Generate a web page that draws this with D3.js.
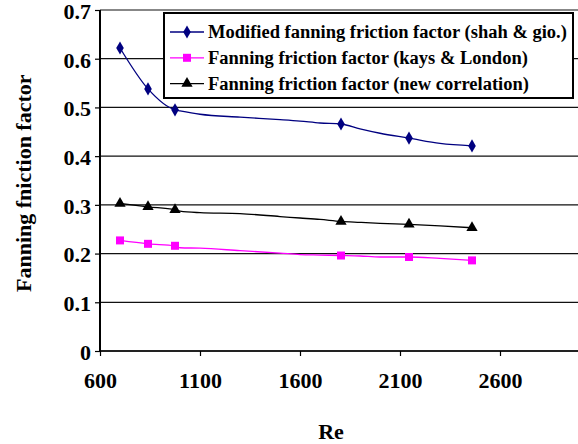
<!DOCTYPE html>
<html>
<head>
<meta charset="utf-8">
<script src="https://cdn.jsdelivr.net/npm/d3@7"></script>
<style>
  body { margin: 0; background: #fff; }
</style>
</head>
<body>
<svg id="chart" width="578" height="444"></svg>
<script>
const FONT = "'Liberation Serif', 'Times New Roman', Times, serif"

// Re values where markers sit
const markerRe = [700, 840, 975, 1805, 2145, 2460]
const shahMarkers = [0.622, 0.538, 0.495, 0.466, 0.437, 0.421]
const kaysMarkers = [0.227, 0.220, 0.216, 0.196, 0.193, 0.186]
const newMarkers = [0.303, 0.296, 0.290, 0.266, 0.260, 0.253]

// the drawn lines pass through more points than the markers
const lineRe = [700, 840, 975, 1000, 1100, 1300, 1500, 1600, 1700, 1805, 1900, 2000, 2145, 2300, 2460]
const shahLine = [0.622, 0.538, 0.495, 0.493, 0.486, 0.480, 0.475, 0.472, 0.468, 0.466, 0.456, 0.447, 0.437, 0.426, 0.421]
const kaysLine = [0.227, 0.220, 0.216, 0.212, 0.211, 0.206, 0.201, 0.198, 0.197, 0.196, 0.195, 0.193, 0.193, 0.190, 0.186]
const newLine = [0.303, 0.296, 0.290, 0.287, 0.284, 0.282, 0.276, 0.273, 0.270, 0.266, 0.264, 0.262, 0.260, 0.257, 0.253]

const xTicks = [600, 1100, 1600, 2100, 2600]
const yTicks = [0, 0.1, 0.2, 0.3, 0.4, 0.5, 0.6, 0.7]

const series = [
    {name: 'Modified fanning friction factor (shah & gio.)', color: '#000080', symbol: d3.symbolDiamond, size: 50, line: shahLine, marks: shahMarkers},
    {name: 'Fanning friction factor (kays & London)', color: '#ff00ff', symbol: d3.symbolSquare, size: 64, line: kaysLine, marks: kaysMarkers},
    {name: 'Fanning friction factor (new correlation)', color: '#000000', symbol: d3.symbolTriangle, size: 55, line: newLine, marks: newMarkers}
]

const svg = d3.select('#chart')
const x = d3.scaleLinear().domain([600, 3100]).range([100, 600])
const y = d3.scaleLinear().domain([0, 0.7]).range([351, 10])

// gridlines
svg.append('g').selectAll('line')
    .data(yTicks.filter(d => d > 0))
    .enter().append('line')
        .attr('x1', x(600)).attr('x2', 578)
        .attr('y1', d => y(d)).attr('y2', d => y(d))
        .attr('stroke', '#111').attr('stroke-width', 1.2)

// axes
const xAxis = svg.append('g').attr('transform', `translate(0,${y(0)})`)
    .call(d3.axisBottom(x).tickValues(xTicks).tickSize(5).tickPadding(16).tickFormat(d3.format('d')))
xAxis.attr('font-family', FONT).attr('font-weight', 'bold')
xAxis.select('.domain').attr('d', `M${x(600)},0H578`).attr('stroke', '#222').attr('stroke-width', 2)
xAxis.selectAll('.tick line').attr('stroke', '#000').attr('stroke-width', 1.2)
xAxis.selectAll('text').attr('font-size', 22).attr('fill', '#000')

const yAxis = svg.append('g').attr('transform', `translate(${x(600)},0)`)
    .call(d3.axisLeft(y).tickValues(yTicks).tickSize(5).tickPadding(4).tickFormat(d => d === 0 ? '0' : d3.format('.1f')(d)))
yAxis.attr('font-family', FONT).attr('font-weight', 'bold')
yAxis.select('.domain').attr('d', `M0,${y(0.7)}V${y(0)}`).attr('stroke', '#000').attr('stroke-width', 2)
yAxis.selectAll('.tick line').attr('stroke', '#000').attr('stroke-width', 1.2)
yAxis.selectAll('text').attr('font-size', 22).attr('fill', '#000').attr('dy', '0.38em')

// titles
svg.append('text').attr('x', 331).attr('y', 439).attr('text-anchor', 'middle')
    .attr('font-family', FONT).attr('font-weight', 'bold')
    .attr('font-size', 22).text('Re')
svg.append('text').attr('transform', 'translate(31,292) rotate(-90)').attr('text-anchor', 'start')
    .attr('font-family', FONT).attr('font-weight', 'bold')
    .attr('font-size', 22).text('Fanning fniction factor')

// lines and markers
const line = d3.line().x(d => x(d[0])).y(d => y(d[1])).curve(d3.curveMonotoneX)

series.forEach((s) => {
    svg.append('path')
        .datum(lineRe.map((r, i) => [r, s.line[i]]))
        .attr('d', line)
        .attr('fill', 'none')
        .attr('stroke', s.color)
        .attr('stroke-width', 1.3)

    svg.append('g').selectAll('path')
        .data(markerRe.map((r, i) => [r, s.marks[i]]))
        .enter().append('path')
            .attr('transform', d => `translate(${x(d[0])},${y(d[1])})`)
            .attr('d', d3.symbol().type(s.symbol).size(s.size))
            .attr('fill', s.color)
})

// legend
const legend = svg.append('g')
legend.append('rect')
    .attr('x', 164).attr('y', 13).attr('width', 409).attr('height', 85)
    .attr('fill', '#fff').attr('stroke', '#000').attr('stroke-width', 2)

const entries = legend.selectAll('.legend__entry')
    .data(series).enter()
    .append('g')
        .attr('class', 'legend__entry')
        .attr('transform', (d, i) => `translate(170,${32 + i * 25.8})`)

entries.append('line')
    .attr('x1', 0).attr('x2', 34).attr('y1', 0).attr('y2', 0)
    .attr('stroke', d => d.color).attr('stroke-width', 1.3)
entries.append('path')
    .attr('transform', 'translate(17,0)')
    .attr('d', d => d3.symbol().type(d.symbol).size(d.size)())
    .attr('fill', d => d.color)
entries.append('text')
    .attr('x', 38).attr('y', 6)
    .attr('font-family', FONT).attr('font-weight', 'bold')
    .attr('font-size', 18.5)
    .text(d => d.name)
</script>
</body>
</html>
